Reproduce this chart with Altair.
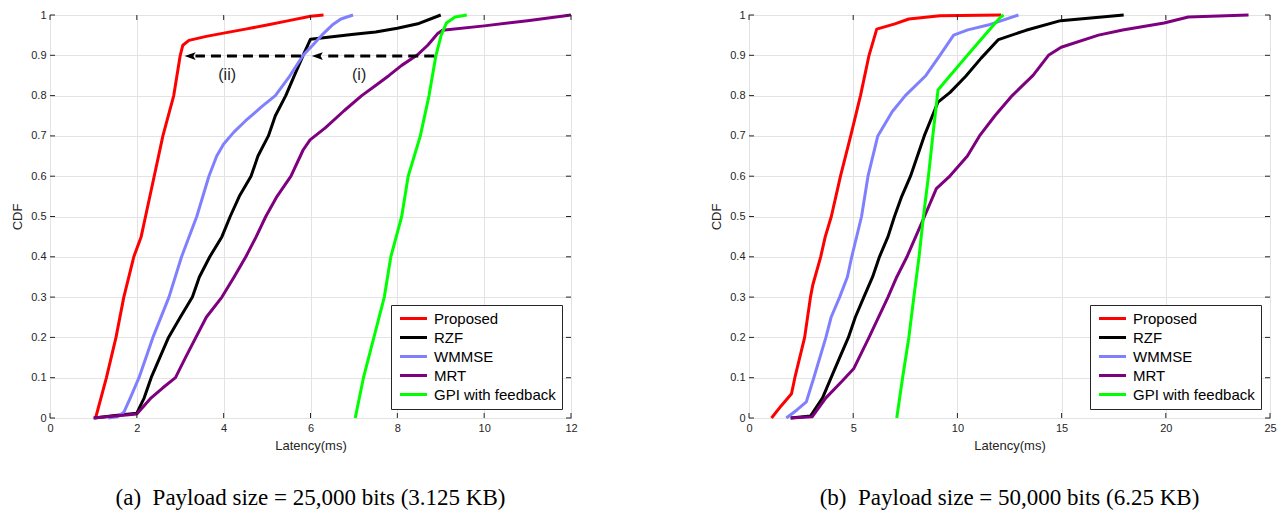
import altair as alt
import pandas as pd

SERIES = ["Proposed", "RZF", "WMMSE", "MRT", "GPI with feedback"]
COLORS = ["#ff0000", "#000000", "#8080ff", "#7e007e", "#00ff00"]

# ---------------- panel (a): 25,000 bits ----------------
A_PROPOSED_X = [1.05, 1.3, 1.52, 1.7, 1.93, 2.1, 2.2, 2.4, 2.6, 2.85, 3.0, 3.06, 3.2, 3.6, 4.0, 4.5, 5.0, 5.5, 6.0, 6.3]
A_PROPOSED_Y = [0, 0.1, 0.2, 0.3, 0.4, 0.45, 0.5, 0.6, 0.7, 0.8, 0.9, 0.925, 0.937, 0.947, 0.955, 0.965, 0.975, 0.986, 0.997, 1.0]
A_RZF_X = [1.02, 1.5, 2.0, 2.17, 2.33, 2.73, 3.0, 3.28, 3.44, 3.68, 3.96, 4.15, 4.36, 4.63, 4.79, 5.03, 5.19, 5.43, 5.63, 5.83, 6.0, 6.5, 7.0, 7.5, 8.0, 8.5, 9.0]
A_RZF_Y = [0, 0.006, 0.012, 0.05, 0.1, 0.2, 0.25, 0.3, 0.35, 0.4, 0.45, 0.5, 0.55, 0.6, 0.65, 0.7, 0.75, 0.8, 0.85, 0.9, 0.94, 0.946, 0.952, 0.958, 0.967, 0.979, 1.0]
A_WMMSE_X = [1.34, 1.55, 1.7, 1.85, 2.05, 2.37, 2.74, 3.03, 3.38, 3.66, 3.84, 4.0, 4.24, 4.5, 4.87, 5.19, 5.5, 5.83, 6.05, 6.26, 6.5, 6.7, 6.98]
A_WMMSE_Y = [0, 0.003, 0.014, 0.05, 0.1, 0.2, 0.3, 0.4, 0.5, 0.6, 0.65, 0.68, 0.71, 0.737, 0.772, 0.8, 0.845, 0.9, 0.925, 0.95, 0.975, 0.99, 1.0]
A_MRT_X = [1.0, 1.5, 2.0, 2.33, 2.6, 2.89, 3.12, 3.36, 3.6, 3.96, 4.24, 4.51, 4.75, 4.97, 5.23, 5.55, 5.83, 5.99, 6.34, 6.78, 7.18, 7.5, 7.81, 8.1, 8.45, 8.7, 8.93, 9.04, 10.0, 11.0, 12.0]
A_MRT_Y = [0, 0.005, 0.01, 0.05, 0.075, 0.1, 0.15, 0.2, 0.25, 0.3, 0.35, 0.4, 0.45, 0.5, 0.55, 0.6, 0.665, 0.69, 0.72, 0.763, 0.8, 0.825, 0.85, 0.875, 0.9, 0.925, 0.954, 0.962, 0.973, 0.986, 1.0]
A_GPI_X = [7.03, 7.22, 7.46, 7.7, 7.85, 8.1, 8.25, 8.53, 8.73, 8.89, 9.01, 9.13, 9.33, 9.6]
A_GPI_Y = [0, 0.1, 0.2, 0.3, 0.4, 0.5, 0.6, 0.7, 0.8, 0.9, 0.95, 0.98, 0.995, 1.0]

# annotation arrows of panel (a)
ARROW_TAIL_X = [5.78, 8.85]
ARROW_END_X = [3.35, 6.28]
ARROW_HEAD_X = [3.10, 6.03]
ARROW_Y = [0.898, 0.898]
NOTE_TEXT = ["(ii)", "(i)"]
NOTE_X = [4.08, 7.12]
NOTE_Y = [0.85, 0.85]

# ---------------- panel (b): 50,000 bits ----------------
B_PROPOSED_X = [1.08, 1.54, 2.04, 2.2, 2.67, 2.95, 3.06, 3.44, 3.66, 3.95, 4.39, 4.88, 5.35, 5.76, 6.13, 7.0, 7.67, 9.16, 12.1]
B_PROPOSED_Y = [0, 0.03, 0.06, 0.1, 0.2, 0.3, 0.33, 0.4, 0.45, 0.5, 0.6, 0.7, 0.8, 0.9, 0.965, 0.978, 0.99, 0.998, 1.0]
B_RZF_X = [2.0, 2.95, 3.53, 3.94, 4.35, 4.77, 5.1, 5.51, 5.93, 6.26, 6.67, 6.98, 7.33, 7.75, 8.41, 9.07, 9.65, 10.4, 11.14, 11.97, 13.29, 14.95, 17.98]
B_RZF_Y = [0, 0.005, 0.05, 0.1, 0.15, 0.2, 0.25, 0.3, 0.35, 0.4, 0.45, 0.5, 0.55, 0.6, 0.7, 0.784, 0.808, 0.848, 0.893, 0.939, 0.962, 0.986, 1.0]
B_WMMSE_X = [1.79, 2.3, 2.75, 3.11, 3.69, 3.94, 4.35, 4.72, 4.93, 5.4, 5.71, 6.18, 6.87, 7.5, 8.49, 9.16, 9.82, 10.5, 11.47, 12.93]
B_WMMSE_Y = [0, 0.02, 0.04, 0.1, 0.2, 0.25, 0.3, 0.35, 0.4, 0.5, 0.6, 0.7, 0.76, 0.8, 0.85, 0.9, 0.95, 0.963, 0.975, 1.0]
B_MRT_X = [2.0, 3.03, 3.69, 4.44, 5.02, 5.76, 6.67, 7.09, 7.58, 8.0, 8.42, 8.99, 9.65, 10.48, 11.06, 11.8, 12.63, 13.63, 14.37, 14.98, 16.77, 17.93, 19.92, 21.08, 23.97]
B_MRT_Y = [0, 0.003, 0.05, 0.09, 0.122, 0.2, 0.3, 0.35, 0.4, 0.45, 0.5, 0.569, 0.601, 0.65, 0.7, 0.75, 0.8, 0.85, 0.9, 0.92, 0.95, 0.963, 0.98, 0.995, 1.0]
B_GPI_X = [7.09, 7.37, 7.67, 7.91, 8.16, 8.37, 8.61, 8.82, 9.07, 9.49, 9.9, 10.48, 11.31, 12.05, 12.22]
B_GPI_Y = [0, 0.1, 0.2, 0.3, 0.4, 0.5, 0.6, 0.7, 0.814, 0.84, 0.865, 0.9, 0.95, 0.994, 1.0]

A_XTICKS = [0, 2, 4, 6, 8, 10, 12]
B_XTICKS = [0, 5, 10, 15, 20, 25]
Y_TICKS = [0, 0.1, 0.2, 0.3, 0.4, 0.5, 0.6, 0.7, 0.8, 0.9, 1]

CAPTION_A = "(a)\u00a0 Payload size = 25,000 bits (3.125 KB)"
CAPTION_B = "(b)\u00a0 Payload size = 50,000 bits (6.25 KB)"

W = 521
H = 403
SANS = "Liberation Sans"
AX = "#262626"


def long_df(pairs):
    rows = []
    for name, xs, ys in pairs:
        for i, (x, y) in enumerate(zip(xs, ys)):
            rows.append({"series": name, "x": x, "y": y, "i": i})
    return pd.DataFrame(rows)


def panel(df, xmax, xticks, caption, extra=()):
    xs = alt.Scale(domain=[0, xmax], nice=False, zero=False)
    ys = alt.Scale(domain=[0, 1], nice=False, zero=False)
    xax = alt.Axis(values=xticks, title="Latency(ms)", format="~g")
    yax = alt.Axis(values=Y_TICKS, title="CDF", format="~g")
    X = lambda: alt.X("x:Q", scale=xs, axis=xax)
    Y = lambda: alt.Y("y:Q", scale=ys, axis=yax)

    lines = alt.Chart(df).mark_line(strokeWidth=3, strokeJoin="round").encode(
        x=X(), y=Y(),
        color=alt.Color(
            "series:N",
            sort=SERIES,
            scale=alt.Scale(domain=SERIES, range=COLORS),
            legend=alt.Legend(
                title=None, orient="bottom-right", offset=9,
                symbolType="M-1,0H5", symbolSize=81, symbolStrokeWidth=3,
                labelOffset=22, labelFont=SANS, labelFontSize=15, labelColor="black",
                padding=6, rowPadding=3, strokeColor=AX, fillColor="white",
                cornerRadius=0, labelLimit=400,
            ),
        ),
        order="i:Q",
    )
    xt = pd.DataFrame({"x": xticks})
    yt = pd.DataFrame({"y": Y_TICKS})
    tick_style = dict(color=AX, strokeWidth=1)
    bt = alt.Chart(xt).mark_rule(**tick_style).encode(x=X(), y=alt.value(H), y2=alt.value(H - 5))
    tt = alt.Chart(xt).mark_rule(**tick_style).encode(x=X(), y=alt.value(0), y2=alt.value(5))
    lt = alt.Chart(yt).mark_rule(**tick_style).encode(y=Y(), x=alt.value(0), x2=alt.value(5))
    rt = alt.Chart(yt).mark_rule(**tick_style).encode(y=Y(), x=alt.value(W), x2=alt.value(W - 5))
    layers = [lines, bt, tt, lt, rt] + [e(X, Y) for e in extra]
    return alt.layer(*layers).properties(
        width=W, height=H,
        title=alt.TitleParams(
            text=caption, orient="bottom", anchor="middle", frame="group",
            font="Liberation Serif", fontSize=23, fontWeight="normal",
            color="black", offset=35,
        ),
    )


def arrows(X, Y):
    d = pd.DataFrame({"x": ARROW_TAIL_X, "end": ARROW_END_X, "y": ARROW_Y})
    return alt.Chart(d).mark_rule(color="black", strokeWidth=3, strokeDash=[10, 6]).encode(
        x=X(), x2="end:Q", y=Y())


def heads(X, Y):
    d = pd.DataFrame({"x": ARROW_HEAD_X, "y": ARROW_Y})
    return alt.Chart(d).mark_point(
        shape="M0,0L2,-0.7L1.6,0L2,0.7Z", size=121, filled=True, color="black", opacity=1
    ).encode(x=X(), y=Y())


def notes(X, Y):
    d = pd.DataFrame({"t": NOTE_TEXT, "x": NOTE_X, "y": NOTE_Y})
    return alt.Chart(d).mark_text(font=SANS, fontSize=16, color=AX).encode(x=X(), y=Y(), text="t:N")


df_a = long_df([
    ("Proposed", A_PROPOSED_X, A_PROPOSED_Y),
    ("RZF", A_RZF_X, A_RZF_Y),
    ("WMMSE", A_WMMSE_X, A_WMMSE_Y),
    ("MRT", A_MRT_X, A_MRT_Y),
    ("GPI with feedback", A_GPI_X, A_GPI_Y),
])
df_b = long_df([
    ("Proposed", B_PROPOSED_X, B_PROPOSED_Y),
    ("RZF", B_RZF_X, B_RZF_Y),
    ("WMMSE", B_WMMSE_X, B_WMMSE_Y),
    ("MRT", B_MRT_X, B_MRT_Y),
    ("GPI with feedback", B_GPI_X, B_GPI_Y),
])

left = panel(df_a, 12, A_XTICKS, CAPTION_A, extra=(arrows, heads, notes))
right = panel(df_b, 25, B_XTICKS, CAPTION_B)

chart = (
    alt.hconcat(left, right, spacing=178, bounds="flush")
    .resolve_scale(x="independent", y="independent", color="independent")
    .resolve_legend(color="independent")
    .properties(padding={"left": 3, "top": 0, "right": 0, "bottom": 0})
    .configure_view(stroke=AX, strokeWidth=1)
    .configure_axis(
        labelFont=SANS, labelFontSize=11, labelColor=AX, labelPadding=4, labelFlush=False,
        titleFont=SANS, titleFontSize=13, titleFontWeight="normal", titleColor=AX, titlePadding=6,
        ticks=False, tickSize=0, domain=False, grid=True, gridColor="#e3e3e3", gridWidth=1,
    )
)

chart.save("out.html", embed_options={"renderer": "svg", "actions": False})
